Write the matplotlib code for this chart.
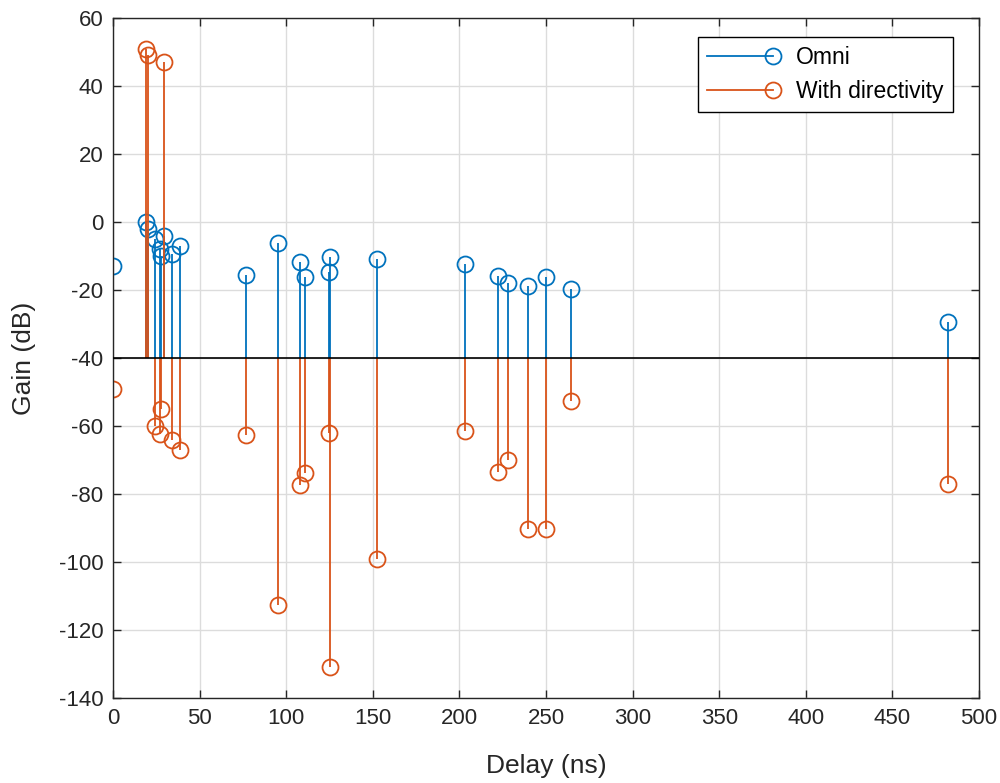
import matplotlib
matplotlib.use("Agg")
import matplotlib.pyplot as plt
from matplotlib.lines import Line2D
from matplotlib.legend_handler import HandlerLine2D

# delays in ns, gains in dB
delay = [0, 19, 20, 24, 27, 28, 29.5, 34, 38.5,
         77, 95, 108, 111, 124.5, 125.5, 152.5,
         203, 222, 228, 239.5, 250, 264.5, 482]
gain_omni = [-13, 0, -2, -5, -8, -10, -4, -9.5, -7,
             -15.6, -6.2, -11.8, -16.2, -14.7, -10.3, -10.9,
             -12.4, -16, -18, -18.8, -16.2, -19.7, -29.4]
gain_dir = [-49, 51, 49, -60, -62.5, -55, 47, -64, -67,
            -62.6, -112.6, -77.4, -73.8, -62, -131, -99,
            -61.5, -73.5, -70, -90.3, -90.3, -52.6, -77]
base = -40

blue = "#0072BD"
orange = "#D95319"

plt.rcParams["font.family"] = ["Liberation Sans", "DejaVu Sans"]
plt.rcParams["axes.unicode_minus"] = False

fig = plt.figure(figsize=(10, 7.83), dpi=100)
ax = fig.add_axes([0.113, 0.1086, 0.866, 0.8684])

for y, c in [(gain_omni, blue), (gain_dir, orange)]:
    ml, sl, bl = ax.stem(delay, y, bottom=base, basefmt=" ")
    plt.setp(ml, marker="o", markersize=11.5, markerfacecolor="none",
             markeredgecolor=c, markeredgewidth=1.3)
    plt.setp(sl, color=c, linewidth=1.3)

ax.axhline(base, color="black", linewidth=1.2, zorder=3)

ax.set_xlim(0, 500)
ax.set_ylim(-140, 60)
ax.set_xticks(range(0, 501, 50))
ax.set_yticks(range(-140, 61, 20))
ax.grid(True, color="#dcdcdc", linewidth=1.0)
ax.set_axisbelow(True)
ax.tick_params(direction="in", labelsize=16, length=6, top=True, right=True,
               labeltop=False, labelright=False, colors="#262626", width=1.0)
ax.tick_params(axis="x", pad=7)
ax.tick_params(axis="y", pad=7)
for s in ax.spines.values():
    s.set_color("#262626")
    s.set_linewidth(1.0)
ax.set_xlabel("Delay (ns)", fontsize=19, color="#262626", labelpad=18)
ax.set_ylabel("Gain (dB)", fontsize=19, color="#262626", labelpad=16)


class EndMarker(HandlerLine2D):
    def create_artists(self, *args, **kwargs):
        arts = super().create_artists(*args, **kwargs)
        for a in arts:
            a.set_markevery([2])
        return arts


handles = [
    Line2D([], [], color=blue, marker="o", markersize=11.5, markerfacecolor="none",
           linewidth=1.3, markeredgewidth=1.3),
    Line2D([], [], color=orange, marker="o", markersize=11.5, markerfacecolor="none",
           linewidth=1.3, markeredgewidth=1.3),
]
leg = ax.legend(handles, ["Omni", "With directivity"], loc="upper right",
                bbox_to_anchor=(0.97, 0.972), borderaxespad=0, fontsize=16.5,
                fancybox=False, framealpha=1, edgecolor="black", numpoints=1,
                handlelength=2.9, handletextpad=1.0, borderpad=0.4, labelspacing=0.45,
                handler_map={Line2D: EndMarker(numpoints=1)})
leg.get_frame().set_linewidth(1.0)

fig.savefig("out.png", dpi=100)
